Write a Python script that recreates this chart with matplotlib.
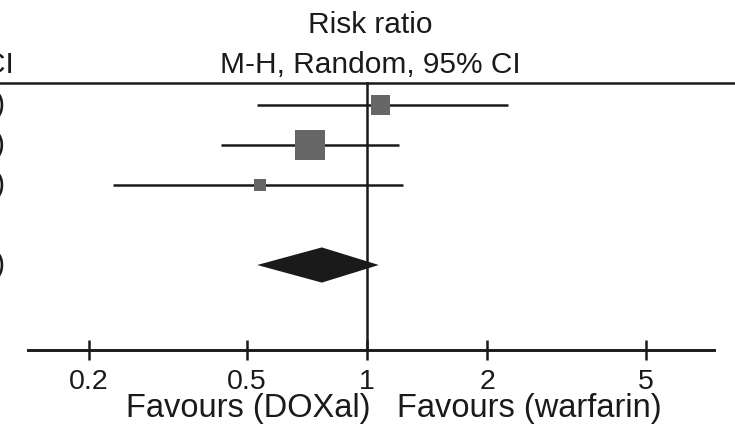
#!/usr/bin/env python3
"""
Forest plot  –  DOXal vs warfarin, risk ratio (M-H, random, 95% CI)
Saves the figure as out.png (735 x 428 px).
"""

import matplotlib
matplotlib.use("Agg")
import matplotlib.pyplot as plt
from matplotlib.lines import Line2D
from matplotlib.ticker import NullLocator

# ───────────────────────────── data ───────────────────────────────────────── #
rr_est = [1.08, 0.72, 0.54]          # risk ratio per study
rr_lo = [0.53, 0.43, 0.23]           # lower 95% CI
rr_hi = [2.26, 1.20, 1.23]           # upper 95% CI
weights = [25.7, 64.1, 10.2]         # % weight -> box area
row_pos = [1, 2, 3]

pooled_est = 0.77
pooled_lo = 0.53
pooled_hi = 1.07
pooled_pos = 5

tick_vals = [0.2, 0.5, 1, 2, 5]
tick_labels = ["0.2", "0.5", "1", "2", "5"]

# ─────────────────────────── style ────────────────────────────────────────── #
W, H = 735, 428
INK = "#1a1a1a"
BOX = "#666666"
LW = 1.8
plt.rcParams["font.family"] = ["Liberation Sans", "DejaVu Sans"]


def px(x, y):
    """pixel position (top-left origin) -> figure fraction"""
    return x / W, 1 - y / H


def main() -> None:
    fig = plt.figure(figsize=(W / 100, H / 100), dpi=100)
    # plot panel: x from 28 px to 714 px, y from 82 px (header rule) to 350 px (axis)
    ax = fig.add_axes([28 / W, 1 - 350 / H, 686 / W, 268 / H])
    ax.set_xscale("log")
    ax.set_xlim(0.141, 7.42)
    ax.set_ylim(7.125, 0.425)

    # null line
    ax.axvline(1, color=INK, lw=LW, zorder=1)

    # studies
    ax.hlines(row_pos, rr_lo, rr_hi, color=INK, lw=LW, zorder=2)
    sizes = [w * 7.3 for w in weights]
    ax.scatter(rr_est, row_pos, s=sizes, marker="s", color=BOX,
               edgecolors="none", zorder=3)

    # pooled diamond
    h = 0.44
    ax.fill([pooled_lo, pooled_est, pooled_hi, pooled_est],
            [pooled_pos, pooled_pos - h, pooled_pos, pooled_pos + h],
            color=INK, lw=0, zorder=3)

    # axis
    for s in ("top", "left", "right"):
        ax.spines[s].set_visible(False)
    ax.spines["bottom"].set_linewidth(LW + 0.3)
    ax.spines["bottom"].set_color(INK)
    ax.set_yticks([])
    ax.set_xticks(tick_vals)
    ax.set_xticklabels(tick_labels)
    ax.xaxis.set_minor_locator(NullLocator())
    ax.tick_params(axis="x", direction="inout", length=15, width=LW,
                   color=INK, labelsize=20.5, labelcolor=INK, pad=6.5)

    # header rule across the whole width
    fig.add_artist(Line2D([0, 1], [1 - 82.5 / H] * 2, color=INK, lw=LW,
                          transform=fig.transFigure))

    # header text
    fig.text(*px(370, 33), "Risk ratio", ha="center", va="baseline",
             fontsize=21.5, color=INK)
    fig.text(*px(370, 73), "M-H, Random, 95% CI", ha="center",
             va="baseline", fontsize=21.5, color=INK)
    fig.text(*px(14, 73), "95% CI", ha="right", va="baseline",
             fontsize=21.5, color=INK)

    # CI column on the left edge (cut off by the crop, as in the source)
    col_text = [f"{e:.2f} ({l:.2f}, {u:.2f})"
                for e, l, u in zip(rr_est, rr_lo, rr_hi)]
    col_text.append(f"{pooled_est:.2f} ({pooled_lo:.2f}, {pooled_hi:.2f})")
    for txt, pos in zip(col_text, row_pos + [pooled_pos]):
        ax.text(-23 / 686, pos, txt, transform=ax.get_yaxis_transform(),
                ha="right", va="center", fontsize=21.5, color=INK)

    # favours labels
    fig.text(*px(370, 417), "Favours (DOXal)", ha="right", va="baseline",
             fontsize=23.5, color=INK)
    fig.text(*px(397, 417), "Favours (warfarin)", ha="left", va="baseline",
             fontsize=23.5, color=INK)

    fig.savefig("out.png", dpi=100)


if __name__ == "__main__":
    main()
